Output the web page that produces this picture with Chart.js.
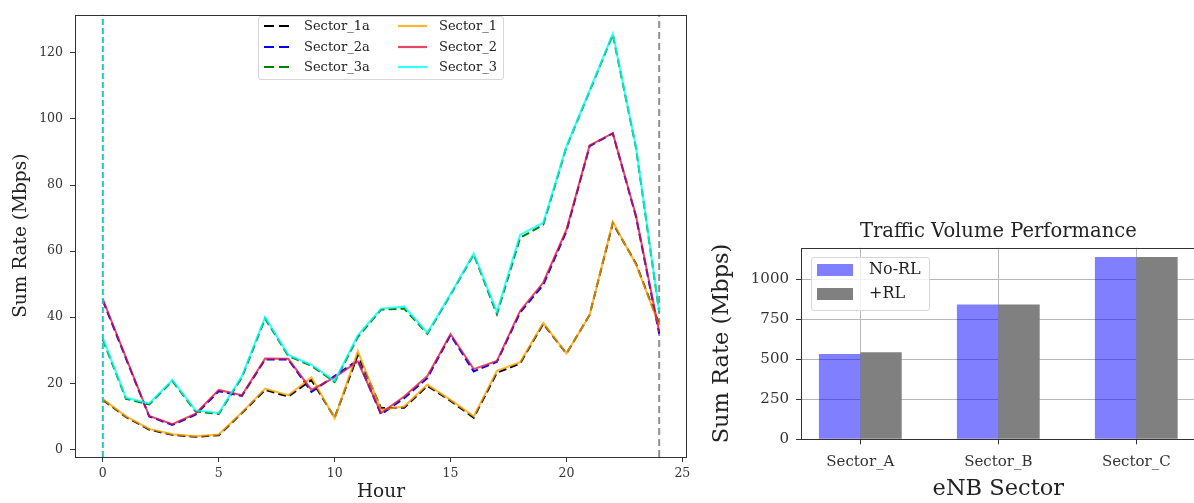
<!DOCTYPE html>
<html>
<head>
<meta charset="utf-8">
<script src="https://cdn.jsdelivr.net/npm/chart.js@4.4.1/dist/chart.umd.min.js"></script>
<style>
  html, body { margin: 0; padding: 0; background: #fff; }
  body { width: 1194px; height: 503px; overflow: hidden; position: relative; font-family: 'DejaVu Serif', serif; color: #222; }
  #left { position: absolute; left: 0; top: 0; width: 700px; height: 503px; }
  #right { position: absolute; left: 700px; top: 200px; width: 500px; height: 303px; }
  .legend { position: absolute; background: rgba(255,255,255,0.8); border: 1px solid #d6d6d6; border-radius: 3px; box-sizing: border-box; z-index: 2; }
  .item { position: absolute; white-space: nowrap; line-height: 1; }
  .item svg { position: absolute; left: 0; top: 50%; margin-top: -2px; }
</style>
</head>
<body>
<div id="left"><canvas id="lineChart"></canvas></div>
<div id="right"><canvas id="barChart"></canvas></div>
<div id="lineLegend" class="legend" style="left:258px; top:16px; width:246px; height:64px;"></div>
<div id="barLegend" class="legend" style="left:811px; top:257px; width:119px; height:54px;"></div>
<script>
// Left chart: hourly sum rate per sector
const hours = [0, 1, 2, 3, 4, 5, 6, 7, 8, 9, 10, 11, 12, 13, 14, 15, 16, 17, 18, 19, 20, 21, 22, 23, 24];
const sector1a = [15.0, 9.8, 6.0, 4.4, 3.8, 4.3, 11.0, 18.0, 16.0, 21.0, 9.6, 28.6, 12.5, 12.6, 19.2, 14.7, 9.6, 23.2, 26.0, 38.0, 29.0, 40.7, 68.5, 56.2, 37.8];
const sector2a = [45.0, 27.5, 10.0, 7.4, 10.5, 17.6, 16.2, 27.2, 27.2, 17.4, 22.2, 27.0, 10.6, 15.5, 21.6, 34.6, 23.6, 26.5, 41.4, 49.8, 66.0, 91.8, 95.6, 70.4, 35.0];
const sector3a = [33.2, 15.3, 13.6, 20.7, 11.5, 10.7, 21.8, 39.6, 28.3, 25.3, 20.4, 34.0, 42.3, 42.6, 35.0, 46.8, 59.0, 40.9, 64.0, 68.0, 91.5, 108.4, 125.5, 91.2, 41.5];
const sector1 = [15.2, 10.0, 6.2, 4.6, 4.0, 4.5, 11.2, 18.4, 16.4, 21.8, 9.4, 29.7, 12.0, 13.0, 19.6, 15.0, 10.0, 23.8, 26.4, 38.3, 29.0, 40.7, 68.8, 56.0, 37.5];
const sector2 = [45.5, 27.8, 10.1, 7.6, 10.8, 18.0, 16.4, 27.5, 27.4, 18.0, 21.8, 26.6, 11.0, 16.0, 22.2, 34.9, 24.3, 26.8, 41.9, 50.5, 66.5, 92.0, 95.7, 70.7, 35.6];
const sector3 = [33.7, 15.6, 13.9, 21.0, 11.8, 11.0, 22.2, 40.0, 28.6, 25.6, 20.7, 34.5, 42.6, 43.2, 35.3, 47.0, 59.3, 41.6, 65.0, 68.6, 91.7, 108.6, 125.8, 91.5, 41.7];
const markerHours = [0, 24];
const hourTicks = [0, 5, 10, 15, 20, 25];
const rateTicks = [0, 20, 40, 60, 80, 100, 120];

// Right chart: traffic volume per eNB sector
const sectors = ['Sector_A', 'Sector_B', 'Sector_C'];
const noRl = [534, 843, 1140];
const withRl = [544, 843, 1140];
const volumeTicks = [0, 250, 500, 750, 1000];

Chart.defaults.font.family = "'DejaVu Serif', serif";
Chart.defaults.color = '#222';

const HOUR_MIN = -1.2, HOUR_MAX = 25.2, RATE_MIN = -2.3, RATE_MAX = 131.6;

// box around the plot area, like matplotlib spines
const framePlugin = {
    id: 'frame',
    afterDraw(chart) {
        const { ctx, chartArea: a } = chart;
        ctx.save();
        ctx.strokeStyle = '#333';
        ctx.lineWidth = 1;
        ctx.strokeRect(Math.round(a.left) + 0.5, Math.round(a.top) + 0.5,
            Math.round(a.right - a.left) - 1, Math.round(a.bottom - a.top) - 1);
        ctx.restore();
    }
};

function points(values) {
    return hours.map((h, i) => ({ x: h, y: values[i] }));
}

const lineSeries = [
    { label: 'Sector_1a', values: sector1a, color: '#000000', dash: [8, 4], order: 4 },
    { label: 'Sector_2a', values: sector2a, color: '#0000ff', dash: [8, 4], order: 4 },
    { label: 'Sector_3a', values: sector3a, color: '#008000', dash: [8, 4], order: 4 },
    { label: 'Sector_1', values: sector1, color: 'rgba(255,165,0,0.8)', dash: [], order: 3 },
    { label: 'Sector_2', values: sector2, color: 'rgba(220,20,60,0.78)', dash: [], order: 2 },
    { label: 'Sector_3', values: sector3, color: 'rgba(0,255,255,0.8)', dash: [], order: 1 }
];
const markerColors = ['#26c4c4', '#909090'];
const markerDash = [[6, 3], [7, 4]];

function renderLineChart() {
    const datasets = lineSeries.map(s => ({
        label: s.label,
        data: points(s.values),
        borderColor: s.color,
        borderDash: s.dash,
        borderWidth: 2,
        pointRadius: 0,
        tension: 0,
        fill: false,
        order: s.order
    }));
    markerHours.forEach((h, i) => {
        datasets.push({
            label: 'marker' + h,
            data: [{ x: h, y: RATE_MIN }, { x: h, y: RATE_MAX }],
            borderColor: markerColors[i],
            borderDash: markerDash[i],
            borderWidth: 2,
            pointRadius: 0,
            order: i === 0 ? 0 : 5
        });
    });

    new Chart(document.getElementById('lineChart'), {
        type: 'line',
        data: { datasets },
        options: {
            responsive: true,
            maintainAspectRatio: false,
            animation: false,
            layout: { padding: { left: 0, right: 13, top: 9, bottom: 0 } },
            plugins: { legend: { display: false }, tooltip: { enabled: false } },
            scales: {
                x: {
                    type: 'linear',
                    min: HOUR_MIN,
                    max: HOUR_MAX,
                    afterBuildTicks: axis => { axis.ticks = hourTicks.map(v => ({ value: v })); },
                    afterFit: axis => { axis.height = 46; },
                    border: { display: false },
                    grid: { drawOnChartArea: false, drawTicks: true, tickLength: 5, tickColor: '#333' },
                    ticks: { callback: v => String(v), font: { size: 12.5 }, padding: 4, color: '#333', maxRotation: 0 },
                    title: { display: true, text: 'Hour', font: { size: 18.5 }, padding: { top: 0, bottom: 0 } }
                },
                y: {
                    min: RATE_MIN,
                    max: RATE_MAX,
                    afterBuildTicks: axis => { axis.ticks = rateTicks.map(v => ({ value: v })); },
                    afterFit: axis => { axis.width = 75; },
                    border: { display: false },
                    grid: { drawOnChartArea: false, drawTicks: true, tickLength: 5, tickColor: '#333' },
                    ticks: { callback: v => String(v), font: { size: 12.5 }, padding: 7, color: '#333' },
                    title: { display: true, text: 'Sum Rate (Mbps)', font: { size: 18.5 }, padding: { top: 10, bottom: 0 } }
                }
            }
        },
        plugins: [framePlugin]
    });

    // legend in two columns, filled column by column
    const box = document.getElementById('lineLegend');
    lineSeries.forEach((s, i) => {
        const col = Math.floor(i / 3), row = i % 3;
        const item = document.createElement('div');
        item.className = 'item';
        item.style.left = (col ? 139 : 5) + 'px';
        item.style.top = [9, 30, 50][row] - 7 + 'px';
        item.style.height = '14px';
        item.style.fontSize = '13px';
        const dash = s.dash.length ? 'stroke-dasharray="10 5"' : '';
        item.innerHTML = `<svg width="29" height="4"><line x1="0" y1="2" x2="29" y2="2" stroke="${s.color}" stroke-width="2.2" ${dash}/></svg>` +
            `<span style="position:absolute; left:${col ? 41 : 40}px; top:0;">${s.label}</span>`;
        box.appendChild(item);
    });
}

const barSeries = [
    { label: 'No-RL', values: noRl, color: 'rgba(0,0,255,0.5)' },
    { label: '+RL', values: withRl, color: 'rgb(128,128,128)' }
];

function renderBarChart() {
    new Chart(document.getElementById('barChart'), {
        type: 'bar',
        data: {
            datasets: barSeries.map(s => ({
                label: s.label,
                data: sectors.map((name, i) => ({ x: i, y: s.values[i] })),
                backgroundColor: s.color,
                borderWidth: 0,
                categoryPercentage: 0.6,
                barPercentage: 1.0
            }))
        },
        options: {
            responsive: true,
            maintainAspectRatio: false,
            animation: false,
            layout: { padding: { left: 0, right: 4.4, top: 0, bottom: 0 } },
            plugins: {
                legend: { display: false },
                tooltip: { enabled: false },
                title: {
                    display: true,
                    text: 'Traffic Volume Performance',
                    fullSize: false,
                    color: '#222',
                    font: { size: 19.5, weight: 'normal' },
                    padding: { top: 20, bottom: 4.3 }
                }
            },
            scales: {
                x: {
                    type: 'linear',
                    min: -0.43,
                    max: 2.43,
                    offset: false,
                    z: 1,
                    afterBuildTicks: axis => { axis.ticks = sectors.map((n, i) => ({ value: i })); },
                    afterFit: axis => { axis.height = 63.7; },
                    border: { display: false },
                    grid: { offset: false, color: '#b8b8b8', lineWidth: 1, drawTicks: true, tickLength: 5, tickColor: '#333' },
                    ticks: { callback: v => sectors[v], font: { size: 15 }, padding: 9, color: '#333', maxRotation: 0 },
                    title: { display: true, text: 'eNB Sector', font: { size: 22.5 }, padding: { top: 0, bottom: 0 } }
                },
                y: {
                    min: 0,
                    max: 1198,
                    z: 1,
                    afterBuildTicks: axis => { axis.ticks = volumeTicks.map(v => ({ value: v })); },
                    afterFit: axis => { axis.width = 101; },
                    border: { display: false },
                    grid: { color: '#b8b8b8', lineWidth: 1, drawTicks: true, tickLength: 5, tickColor: '#333' },
                    ticks: { callback: v => String(v), font: { size: 15 }, padding: 7, color: '#333' },
                    title: { display: true, text: 'Sum Rate (Mbps)', font: { size: 22.5 }, padding: { top: 8.5, bottom: 0 } }
                }
            }
        },
        plugins: [framePlugin]
    });

    const box = document.getElementById('barLegend');
    barSeries.forEach((s, i) => {
        const item = document.createElement('div');
        item.className = 'item';
        item.style.left = '5px';
        item.style.top = (i ? 30 : 6) + 'px';
        item.innerHTML = `<div style="position:absolute; left:0; top:0; width:36px; height:12px; background:${s.color};"></div>` +
            `<span style="position:absolute; left:52px; top:-3px; font-size:16px;">${s.label}</span>`;
        box.appendChild(item);
    });
}

window.addEventListener('DOMContentLoaded', () => {
    renderLineChart();
    renderBarChart();
});
</script>
</body>
</html>
